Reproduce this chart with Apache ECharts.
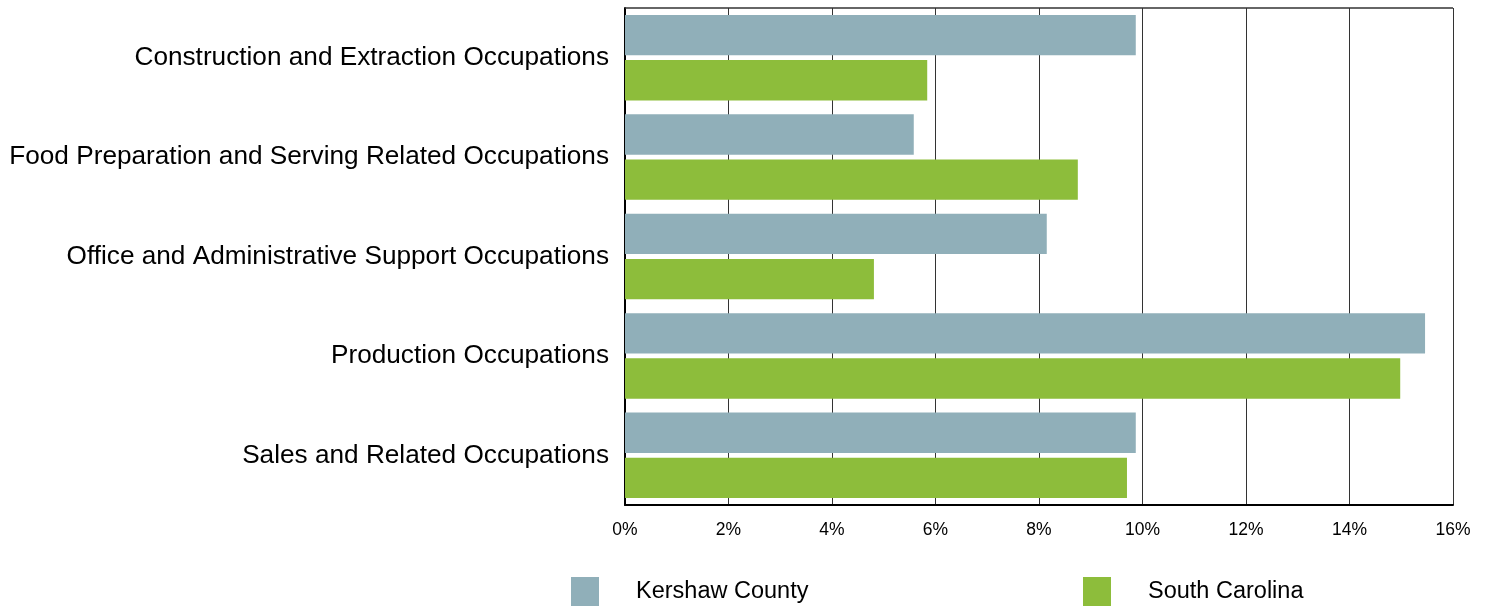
<!DOCTYPE html>
<html>
<head>
<meta charset="utf-8">
<script src="https://cdn.jsdelivr.net/npm/echarts@6/dist/echarts.min.js"></script>
<style>
  html, body { margin: 0; padding: 0; background: #fff; }
  #chart { width: 1486px; height: 606px; }
</style>
</head>
<body>
<div id="chart"></div>
<script>
const categories = [
  "Construction and Extraction Occupations",
  "Food Preparation and Serving Related Occupations",
  "Office and Administrative Support Occupations",
  "Production Occupations",
  "Sales and Related Occupations",
];
const kershaw = [9.87, 5.58, 8.15, 15.46, 9.87];
const southCarolina = [5.84, 8.75, 4.81, 14.98, 9.7];
const xTicks = [0, 2, 4, 6, 8, 10, 12, 14, 16];

const chart = echarts.init(document.getElementById("chart"));
const font = "'Liberation Sans', Arial, sans-serif";

// legend items sit near the bottom edge; the swatch is cut by the page edge
const legendBase = {
  top: 577,
  padding: 0,
  icon: "rect",
  itemWidth: 28,
  itemHeight: 30,
  itemGap: 0,
  textStyle: { fontSize: 23.5, color: "#000", padding: [0, 0, 0, 32] },
};

const option = {
  animation: false,
  textStyle: { fontFamily: font },
  legend: [
    Object.assign({}, legendBase, { data: ["Kershaw County"], left: 571 }),
    Object.assign({}, legendBase, { data: ["South Carolina"], left: 1083 }),
  ],
  grid: { left: 625, right: 33, top: 8, bottom: 101 },
  xAxis: {
    type: "value",
    min: 0,
    max: 16,
    interval: 2,
    position: "bottom",
    axisLine: { show: true, lineStyle: { color: "#000", width: 2 } },
    axisTick: { show: false },
    splitLine: { show: true, lineStyle: { color: "#333", width: 1 } },
    axisLabel: {
      fontSize: 17.5,
      color: "#000",
      margin: 16,
      formatter: (v) => (xTicks.includes(v) ? v + "%" : ""),
    },
  },
  yAxis: {
    type: "category",
    inverse: true,
    data: categories,
    axisLine: { show: true, lineStyle: { color: "#000", width: 2 } },
    axisTick: { show: false },
    axisLabel: { fontSize: 26.2, color: "#000", margin: 16 },
  },
  series: [
    {
      name: "Kershaw County",
      type: "bar",
      data: kershaw,
      itemStyle: { color: "#90afb9" },
      barCategoryGap: "14%",
      barGap: "12%",
    },
    {
      name: "South Carolina",
      type: "bar",
      data: southCarolina,
      itemStyle: { color: "#8dbd3b" },
      barCategoryGap: "14%",
      barGap: "12%",
    },
  ],
  graphic: [
    {
      type: "line",
      shape: { x1: 625, y1: 8, x2: 1453, y2: 8 },
      style: { stroke: "#333", lineWidth: 1.5 },
      z: 10,
    },
  ],
};

chart.setOption(option);
</script>
</body>
</html>
